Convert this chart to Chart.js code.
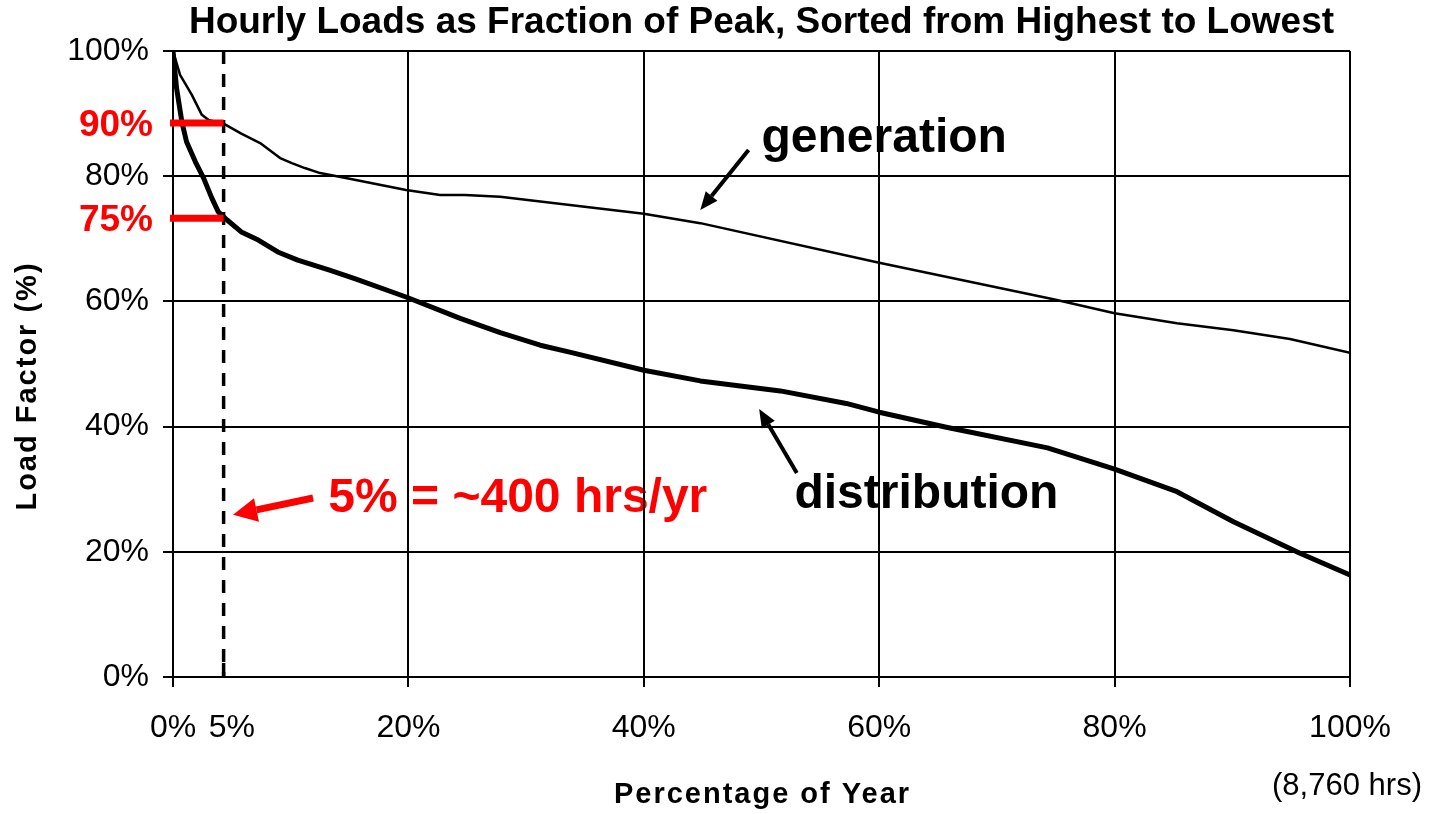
<!DOCTYPE html>
<html><head><meta charset="utf-8">
<script src="https://cdn.jsdelivr.net/npm/chart.js@4.4.1/dist/chart.umd.min.js"></script>
<style>html,body{margin:0;padding:0;background:#fff}canvas{display:block}</style>
</head><body>
<canvas id="c" width="1446" height="814"></canvas>
<script>
const FONT = '"Liberation Sans", Arial, Helvetica, sans-serif';
const TITLE = 'Hourly Loads as Fraction of Peak, Sorted from Highest to Lowest';
const X_TITLE = 'Percentage of Year';
const Y_TITLE = 'Load Factor (%)';
const X_NOTE = '(8,760 hrs)';

const xTickValues = [0, 5, 20, 40, 60, 80, 100];
const yTickValues = [0, 20, 40, 60, 80, 100];

const generationX = [0, 0.6, 1.6, 2.45, 3.0, 4.3, 5.8, 7.4, 9.1, 10.1, 11.2, 12.5, 15.0, 19.8, 22.7, 24.8, 27.8, 40.0, 44.8, 59.9, 74.9, 80.0, 85.3, 90.1, 94.9, 100];
const generationY = [100, 96.2, 93.0, 89.8, 89.0, 88.4, 86.8, 85.3, 82.9, 82.1, 81.3, 80.5, 79.6, 77.8, 77.0, 77.0, 76.7, 74.0, 72.5, 66.2, 60.3, 58.1, 56.5, 55.4, 54.0, 51.8];

const distributionX = [0, 0.3, 0.75, 1.15, 1.9, 2.6, 3.3, 3.85, 4.6, 5.8, 7.25, 8.9, 10.6, 13.3, 15.5, 19.8, 24.4, 27.8, 31.2, 33.7, 40.0, 44.8, 51.6, 57.2, 60.0, 65.7, 74.3, 80.0, 85.3, 90.1, 95.7, 100];
const distributionY = [100, 94.1, 88.7, 85.5, 82.3, 79.7, 76.5, 74.3, 73.0, 71.1, 69.8, 67.9, 66.6, 65.0, 63.6, 60.7, 57.3, 55.0, 53.0, 51.9, 49.0, 47.3, 45.7, 43.7, 42.3, 39.9, 36.6, 33.2, 29.6, 24.8, 19.8, 16.3];

const markerX = 4.3;
const markerLevels = [88.5, 73.3];
const markerLabels = ['90%', '75%'];

const seriesLabels = ['generation', 'distribution'];
const noteText = '5% = ~400 hrs/yr';

// annotation anchors (data coordinates)
const genLabelAt = [50.0, 83.9];
const genArrow = [[48.9, 84.2], [44.8, 74.6]];
const distLabelAt = [52.8, 27.0];
const distArrow = [[53.0, 32.6], [49.8, 42.8]];
const noteLabelAt = [13.2, 26.4];
const noteArrow = [[11.9, 28.6], [5.1, 25.9]];

function toPts(xs, ys) { return xs.map((x, i) => ({x: x, y: ys[i]})); }

function arrow(ctx, x1, y1, x2, y2, w, hl, hw, color) {
  const a = Math.atan2(y2 - y1, x2 - x1);
  const bx = x2 - hl * Math.cos(a), by = y2 - hl * Math.sin(a);
  ctx.save();
  ctx.strokeStyle = color; ctx.fillStyle = color; ctx.lineWidth = w; ctx.lineCap = 'butt';
  ctx.beginPath(); ctx.moveTo(x1, y1); ctx.lineTo(bx, by); ctx.stroke();
  ctx.beginPath();
  ctx.moveTo(x2, y2);
  ctx.lineTo(bx + hw / 2 * Math.sin(a), by - hw / 2 * Math.cos(a));
  ctx.lineTo(bx - hw / 2 * Math.sin(a), by + hw / 2 * Math.cos(a));
  ctx.closePath(); ctx.fill();
  ctx.restore();
}

const decor = {
  id: 'decor',
  beforeDraw(chart) {
    const ctx = chart.ctx, ca = chart.chartArea, sx = chart.scales.x, sy = chart.scales.y;
    ctx.save();
    ctx.fillStyle = '#fff'; ctx.fillRect(0, 0, chart.width, chart.height);
    ctx.fillStyle = '#000';
    ctx.textAlign = 'center'; ctx.textBaseline = 'middle';
    ctx.font = 'bold 37px ' + FONT;
    ctx.fillText(TITLE, (ca.left + ca.right) / 2, 23);
    ctx.font = 'bold 29px ' + FONT;
    ctx.letterSpacing = '2px';
    ctx.fillText(X_TITLE, (ca.left + ca.right) / 2 + 1, 795);
    ctx.save();
    ctx.translate(28, 386); ctx.rotate(-Math.PI / 2);
    ctx.fillText(Y_TITLE, 0, 0);
    ctx.restore();
    ctx.letterSpacing = '0px';
    ctx.font = '31px ' + FONT;
    ctx.fillText(X_NOTE, ca.right - 3, 786);
    // annotation texts
    ctx.textAlign = 'left'; ctx.textBaseline = 'alphabetic';
    ctx.font = 'bold 48px ' + FONT;
    ctx.fillText(seriesLabels[0], sx.getPixelForValue(genLabelAt[0]), sy.getPixelForValue(genLabelAt[1]));
    ctx.fillText(seriesLabels[1], sx.getPixelForValue(distLabelAt[0]), sy.getPixelForValue(distLabelAt[1]));
    ctx.fillStyle = '#ff0000';
    ctx.fillText(noteText, sx.getPixelForValue(noteLabelAt[0]), sy.getPixelForValue(noteLabelAt[1]));
    ctx.restore();
  },
  afterDatasetsDraw(chart) {
    const ctx = chart.ctx, ca = chart.chartArea, sx = chart.scales.x, sy = chart.scales.y;
    const mx = sx.getPixelForValue(markerX);
    ctx.save();
    // dashed 5% line
    ctx.strokeStyle = '#000'; ctx.lineWidth = 3.5; ctx.setLineDash([13, 10]);
    ctx.beginPath(); ctx.moveTo(mx, ca.top); ctx.lineTo(mx, ca.bottom); ctx.stroke();
    ctx.setLineDash([]);
    ctx.beginPath(); ctx.moveTo(mx, ca.bottom - 14); ctx.lineTo(mx, ca.bottom); ctx.stroke();
    // red markers
    ctx.strokeStyle = '#ff0000'; ctx.fillStyle = '#ff0000'; ctx.lineWidth = 7;
    ctx.font = 'bold 37px ' + FONT; ctx.textAlign = 'right'; ctx.textBaseline = 'middle';
    markerLevels.forEach((v, i) => {
      const py = sy.getPixelForValue(v);
      ctx.beginPath(); ctx.moveTo(ca.left - 3, py); ctx.lineTo(mx, py); ctx.stroke();
      ctx.fillText(markerLabels[i], ca.left - 20, py + 3);
    });
    // arrows
    const P = (p) => [sx.getPixelForValue(p[0]), sy.getPixelForValue(p[1])];
    let a = P(genArrow[0]), b = P(genArrow[1]);
    arrow(ctx, a[0], a[1], b[0], b[1], 4, 18, 15, '#000');
    a = P(distArrow[0]); b = P(distArrow[1]);
    arrow(ctx, a[0], a[1], b[0], b[1], 4, 18, 15, '#000');
    a = P(noteArrow[0]); b = P(noteArrow[1]);
    arrow(ctx, a[0], a[1], b[0], b[1], 7, 24, 24, '#ff0000');
    ctx.restore();
  }
};

new Chart(document.getElementById('c'), {
  type: 'scatter',
  data: {
    datasets: [
      { label: seriesLabels[0], data: toPts(generationX, generationY), showLine: true, borderColor: '#000', borderWidth: 2.5, pointRadius: 0, tension: 0, borderJoinStyle: 'round' },
      { label: seriesLabels[1], data: toPts(distributionX, distributionY), showLine: true, borderColor: '#000', borderWidth: 5, pointRadius: 0, tension: 0, borderJoinStyle: 'round' }
    ]
  },
  options: {
    responsive: false, animation: false,
    layout: { padding: { top: 51, right: 96, left: 0, bottom: 0 } },
    plugins: { legend: { display: false }, tooltip: { enabled: false }, title: { display: false } },
    scales: {
      x: {
        type: 'linear', min: 0, max: 100,
        afterBuildTicks: (s) => { s.ticks = xTickValues.map(v => ({ value: v })); },
        afterFit: (s) => { s.height = 137; },
        ticks: { autoSkip: false, maxRotation: 0, color: '#000', padding: 22, font: { family: FONT, size: 32 }, callback: (v) => v + '%' },
        grid: { color: (c) => (c.tick && c.tick.value === 5) ? 'rgba(0,0,0,0)' : '#000', lineWidth: 2, tickLength: 10, drawTicks: true },
        border: { display: true, color: '#000', width: 2 }
      },
      y: {
        type: 'linear', min: 0, max: 100,
        afterBuildTicks: (s) => { s.ticks = yTickValues.map(v => ({ value: v })); },
        afterFit: (s) => { s.width = 173; },
        ticks: { color: '#000', padding: 14, font: { family: FONT, size: 32 }, callback: (v) => v + '%' },
        grid: { color: '#000', lineWidth: 2, tickLength: 10 },
        border: { display: true, color: '#000', width: 2 }
      }
    }
  },
  plugins: [decor]
});
</script>
</body></html>
